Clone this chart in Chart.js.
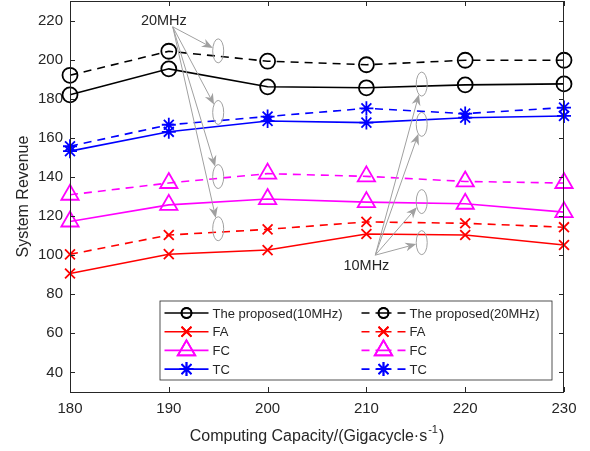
<!DOCTYPE html>
<html lang="en">
<head>
  <meta charset="UTF-8" />
  <title>System Revenue</title>
  <script src="https://cdn.jsdelivr.net/npm/chart.js"></script>
  <style>
    html, body { margin: 0; padding: 0; background: #fff; }
    #wrap { width: 590px; height: 451px; }
  </style>
</head>
<body>
  <div id="wrap"><canvas id="grafico"></canvas></div>
  <script>
    // eixo x: capacidade de computação
    const capacidade = [180, 190, 200, 210, 220, 230];
    const xTicks = [180, 190, 200, 210, 220, 230];
    const yTicks = [40, 60, 80, 100, 120, 140, 160, 180, 200, 220];

    // séries (10MHz = linha cheia, 20MHz = tracejada)
    const proposed10 = [182, 195.3, 186.1, 185.6, 187.1, 187.6];
    const proposed20 = [192, 204.3, 199.2, 197.4, 199.7, 199.7];
    const fa10 = [90.6, 100.5, 102.6, 110.8, 110.3, 105.2];
    const fa20 = [100.4, 110.3, 113.2, 117, 116.3, 114.3];
    const fc10 = [117.2, 125.7, 128.7, 127.1, 126.3, 122];
    const fc20 = [130.9, 136.9, 141.7, 140.3, 137.7, 136.9];
    const tc10 = [153.2, 163.1, 168.6, 167.8, 170.3, 171.2];
    const tc20 = [155.7, 166.7, 170.9, 175.1, 172.4, 175.5];

    // anotações (em coordenadas dos dados)
    const nota20 = ['20MHz', 189.5, 220];
    const origem20 = [190.4, 216.8];
    const elipses20 = [[195, 204.5], [195, 173], [195, 140.2], [195, 113.5]];
    const nota10 = ['10MHz', 210, 94.5];
    const origem10 = [210.9, 100];
    const elipses10 = [[215.6, 187.5], [215.6, 166.9], [215.6, 127.4], [215.6, 106.4]];

    const eixoCor = '#262626';
    const cinza = '#a0a0a0';
    const fonte = '"Liberation Sans", Arial, sans-serif';

    function serie(label, data, cor, estilo, raio, tracejado) {
      return {
        label: label,
        data: data.map((v, j) => ({x: capacidade[j], y: v})),
        borderColor: cor,
        backgroundColor: 'rgba(0,0,0,0)',
        borderWidth: 1.6,
        borderDash: tracejado ? [8, 6] : [],
        pointStyle: estilo,
        pointRadius: raio,
        pointHoverRadius: raio,
        pointBorderColor: cor,
        pointBackgroundColor: 'rgba(0,0,0,0)',
        pointBorderWidth: 1.8,
        tension: 0,
        clip: false
      };
    }

    function marcador(ctx, estilo, raio, x, y) {
      if (Chart.helpers && Chart.helpers.drawPoint) {
        Chart.helpers.drawPoint(ctx, {pointStyle: estilo, radius: raio, borderWidth: 1.8, rotation: 0}, x, y);
        ctx.stroke();
      }
    }

    // caixa, ticks para dentro, legenda, setas e título do eixo x
    const extras = {
      id: 'extras',
      afterDatasetsDraw(chart) {
        const ctx = chart.ctx;
        const ca = chart.chartArea;
        const sx = chart.scales.x, sy = chart.scales.y;
        ctx.save();
        ctx.setLineDash([]);
        ctx.strokeStyle = eixoCor;
        ctx.lineWidth = 1;
        ctx.strokeRect(ca.left + 0.5, ca.top + 0.5, ca.right - ca.left - 1, ca.bottom - ca.top);
        ctx.beginPath();
        xTicks.forEach(v => {
          const px = Math.round(sx.getPixelForValue(v)) + 0.5;
          ctx.moveTo(px, ca.bottom); ctx.lineTo(px, ca.bottom - 5);
          ctx.moveTo(px, ca.top); ctx.lineTo(px, ca.top + 5);
        });
        yTicks.forEach(v => {
          const py = Math.round(sy.getPixelForValue(v)) + 0.5;
          ctx.moveTo(ca.left, py); ctx.lineTo(ca.left + 5, py);
          ctx.moveTo(ca.right, py); ctx.lineTo(ca.right - 5, py);
        });
        ctx.stroke();

        // anotações
        function seta(o, e) {
          const ox = sx.getPixelForValue(o[0]), oy = sy.getPixelForValue(o[1]);
          const cx = sx.getPixelForValue(e[0]), cy = sy.getPixelForValue(e[1]);
          const rx = 5.5, ry = 12;
          ctx.strokeStyle = cinza;
          ctx.lineWidth = 1;
          ctx.beginPath();
          ctx.ellipse(cx, cy, rx, ry, 0, 0, Math.PI * 2);
          ctx.stroke();
          let dx = ox - cx, dy = oy - cy;
          const d = Math.hypot(dx, dy);
          dx /= d; dy /= d;
          const k = 1 / Math.sqrt((dx / rx) ** 2 + (dy / ry) ** 2);
          const tx = cx + dx * k, ty = cy + dy * k;
          const ang = Math.atan2(ty - oy, tx - ox);
          const hl = 11, hw = 4.5;
          const bx = tx - Math.cos(ang) * hl, by = ty - Math.sin(ang) * hl;
          const nx = tx - Math.cos(ang) * hl * 0.7, ny = ty - Math.sin(ang) * hl * 0.7;
          ctx.beginPath();
          ctx.moveTo(ox, oy);
          ctx.lineTo(nx, ny);
          ctx.stroke();
          ctx.fillStyle = cinza;
          ctx.beginPath();
          ctx.moveTo(tx, ty);
          ctx.lineTo(bx - Math.sin(ang) * hw, by + Math.cos(ang) * hw);
          ctx.lineTo(nx, ny);
          ctx.lineTo(bx + Math.sin(ang) * hw, by - Math.cos(ang) * hw);
          ctx.closePath();
          ctx.fill();
        }
        elipses20.forEach(e => seta(origem20, e));
        elipses10.forEach(e => seta(origem10, e));
        ctx.fillStyle = eixoCor;
        ctx.font = '14.5px ' + fonte;
        ctx.textAlign = 'center';
        ctx.textBaseline = 'middle';
        [nota20, nota10].forEach(n => {
          ctx.fillText(n[0], sx.getPixelForValue(n[1]), sy.getPixelForValue(n[2]));
        });

        // título do eixo x com expoente
        const t1 = 'Computing Capacity/(Gigacycle·s', t2 = '-1', t3 = ')';
        ctx.textAlign = 'left';
        ctx.textBaseline = 'alphabetic';
        ctx.font = '16px ' + fonte;
        const w1 = ctx.measureText(t1).width, w3 = ctx.measureText(t3).width;
        ctx.font = '11px ' + fonte;
        const w2 = ctx.measureText(t2).width;
        let tx0 = (ca.left + ca.right) / 2 - (w1 + w2 + w3 + 2) / 2;
        const base = 441;
        ctx.font = '16px ' + fonte;
        ctx.fillText(t1, tx0, base);
        ctx.font = '11px ' + fonte;
        ctx.fillText(t2, tx0 + w1 + 1, base - 8);
        ctx.font = '16px ' + fonte;
        ctx.fillText(t3, tx0 + w1 + w2 + 2, base);

        // legenda
        const lw = 392, lh = 79;
        const lx = ca.right - 12.5 - lw, ly = ca.bottom - 12.5 - lh;
        ctx.fillStyle = '#fff';
        ctx.fillRect(lx, ly, lw, lh);
        ctx.strokeStyle = eixoCor;
        ctx.lineWidth = 0.8;
        ctx.strokeRect(lx + 0.5, ly + 0.5, lw, lh);
        ctx.textBaseline = 'middle';
        const ds = chart.data.datasets;
        const colunas = [[0, 2, 4, 6], [1, 3, 5, 7]];
        const colX = [lx + 5, lx + 202];
        colunas.forEach((col, c) => {
          col.forEach((i, r) => {
            const d = ds[i];
            const y = ly + 12.5 + r * 18.7;
            const x0 = colX[c];
            ctx.strokeStyle = d.borderColor;
            ctx.fillStyle = 'rgba(0,0,0,0)';
            ctx.lineWidth = 1.6;
            ctx.setLineDash(d.borderDash.length ? [8, 6, 16, 6, 8, 0] : []);
            ctx.beginPath();
            ctx.moveTo(x0, y); ctx.lineTo(x0 + 44, y);
            ctx.stroke();
            ctx.setLineDash([]);
            ctx.lineWidth = 1.8;
            const raio = d.pointStyle === 'circle' ? 5 : d.pointRadius;
            marcador(ctx, d.pointStyle, raio, x0 + 22, y);
            ctx.fillStyle = eixoCor;
            ctx.font = '13px ' + fonte;
            ctx.textAlign = 'left';
            ctx.fillText(d.label, x0 + 48, y + 1);
          });
        });
        ctx.restore();
      }
    };

    const ctxG = document.getElementById('grafico').getContext('2d');
    new Chart(ctxG, {
      type: 'line',
      data: {
        datasets: [
          serie('The proposed(10MHz)', proposed10, '#000000', 'circle', 7.5, false),
          serie('The proposed(20MHz)', proposed20, '#000000', 'circle', 7.5, true),
          serie('FA', fa10, '#ff0000', 'crossRot', 7, false),
          serie('FA', fa20, '#ff0000', 'crossRot', 7, true),
          serie('FC', fc10, '#ff00ff', 'triangle', 10, false),
          serie('FC', fc20, '#ff00ff', 'triangle', 10, true),
          serie('TC', tc10, '#0000ff', 'star', 7, false),
          serie('TC', tc20, '#0000ff', 'star', 7, true)
        ]
      },
      options: {
        responsive: true,
        maintainAspectRatio: false,
        animation: false,
        layout: { autoPadding: false, padding: { top: 1, right: 26, left: 0, bottom: 0 } },
        plugins: {
          legend: { display: false },
          tooltip: { enabled: false }
        },
        scales: {
          x: {
            type: 'linear',
            min: 180,
            max: 230,
            afterBuildTicks: s => { s.ticks = xTicks.map(v => ({value: v})); },
            afterFit: s => { s.height = 59; s.paddingLeft = 0; s.paddingRight = 0; },
            grid: { display: false, drawTicks: false },
            border: { display: false },
            ticks: { color: eixoCor, font: { family: fonte, size: 15 }, padding: 8, maxRotation: 0 },
            title: { display: false }
          },
          y: {
            min: 30,
            max: 230,
            afterBuildTicks: s => { s.ticks = yTicks.map(v => ({value: v})); },
            afterFit: s => { s.width = 70; s.paddingTop = 0; s.paddingBottom = 0; },
            grid: { display: false, drawTicks: false },
            border: { display: false },
            ticks: { color: eixoCor, font: { family: fonte, size: 15 }, padding: 7 },
            title: {
              display: true,
              text: 'System Revenue',
              color: eixoCor,
              font: { family: fonte, size: 16 },
              padding: { top: 14, bottom: 0 }
            }
          }
        }
      },
      plugins: [extras]
    });
  </script>
</body>
</html>
